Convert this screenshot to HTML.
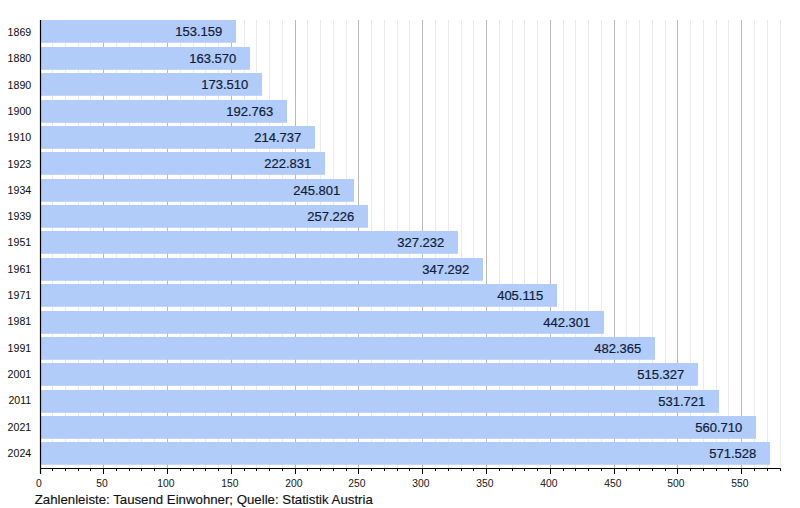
<!DOCTYPE html>
<html><head><meta charset="utf-8"><style>
html,body{margin:0;padding:0;background:#fff;width:800px;height:508px;overflow:hidden}
svg{display:block}
text{font-family:"Liberation Sans",sans-serif}
.v{font-size:13px;fill:#101c38;stroke:#101c38;stroke-width:0.2px}
.y{font-size:10.6px;fill:#111;stroke:#111;stroke-width:0.05px}
.t{font-size:10.3px;fill:#1a1a1a;stroke:#1a1a1a;stroke-width:0.05px}
.c{font-size:13.5px;fill:#111;stroke:#111;stroke-width:0.15px}
</style></head><body>
<svg width="800" height="508" viewBox="0 0 800 508">
<line x1="52.5" y1="20.0" x2="52.5" y2="468.5" stroke="#eaeaea" stroke-width="1"/>
<line x1="65.5" y1="20.0" x2="65.5" y2="468.5" stroke="#eaeaea" stroke-width="1"/>
<line x1="78.5" y1="20.0" x2="78.5" y2="468.5" stroke="#eaeaea" stroke-width="1"/>
<line x1="90.5" y1="20.0" x2="90.5" y2="468.5" stroke="#eaeaea" stroke-width="1"/>
<line x1="103.5" y1="20.0" x2="103.5" y2="468.5" stroke="#b8b8b8" stroke-width="1"/>
<line x1="116.5" y1="20.0" x2="116.5" y2="468.5" stroke="#eaeaea" stroke-width="1"/>
<line x1="129.5" y1="20.0" x2="129.5" y2="468.5" stroke="#eaeaea" stroke-width="1"/>
<line x1="141.5" y1="20.0" x2="141.5" y2="468.5" stroke="#eaeaea" stroke-width="1"/>
<line x1="154.5" y1="20.0" x2="154.5" y2="468.5" stroke="#eaeaea" stroke-width="1"/>
<line x1="167.5" y1="20.0" x2="167.5" y2="468.5" stroke="#b8b8b8" stroke-width="1"/>
<line x1="180.5" y1="20.0" x2="180.5" y2="468.5" stroke="#eaeaea" stroke-width="1"/>
<line x1="193.5" y1="20.0" x2="193.5" y2="468.5" stroke="#eaeaea" stroke-width="1"/>
<line x1="205.5" y1="20.0" x2="205.5" y2="468.5" stroke="#eaeaea" stroke-width="1"/>
<line x1="218.5" y1="20.0" x2="218.5" y2="468.5" stroke="#eaeaea" stroke-width="1"/>
<line x1="231.5" y1="20.0" x2="231.5" y2="468.5" stroke="#b8b8b8" stroke-width="1"/>
<line x1="244.5" y1="20.0" x2="244.5" y2="468.5" stroke="#eaeaea" stroke-width="1"/>
<line x1="256.5" y1="20.0" x2="256.5" y2="468.5" stroke="#eaeaea" stroke-width="1"/>
<line x1="269.5" y1="20.0" x2="269.5" y2="468.5" stroke="#eaeaea" stroke-width="1"/>
<line x1="282.5" y1="20.0" x2="282.5" y2="468.5" stroke="#eaeaea" stroke-width="1"/>
<line x1="295.5" y1="20.0" x2="295.5" y2="468.5" stroke="#b8b8b8" stroke-width="1"/>
<line x1="307.5" y1="20.0" x2="307.5" y2="468.5" stroke="#eaeaea" stroke-width="1"/>
<line x1="320.5" y1="20.0" x2="320.5" y2="468.5" stroke="#eaeaea" stroke-width="1"/>
<line x1="333.5" y1="20.0" x2="333.5" y2="468.5" stroke="#eaeaea" stroke-width="1"/>
<line x1="346.5" y1="20.0" x2="346.5" y2="468.5" stroke="#eaeaea" stroke-width="1"/>
<line x1="358.5" y1="20.0" x2="358.5" y2="468.5" stroke="#b8b8b8" stroke-width="1"/>
<line x1="371.5" y1="20.0" x2="371.5" y2="468.5" stroke="#eaeaea" stroke-width="1"/>
<line x1="384.5" y1="20.0" x2="384.5" y2="468.5" stroke="#eaeaea" stroke-width="1"/>
<line x1="397.5" y1="20.0" x2="397.5" y2="468.5" stroke="#eaeaea" stroke-width="1"/>
<line x1="409.5" y1="20.0" x2="409.5" y2="468.5" stroke="#eaeaea" stroke-width="1"/>
<line x1="422.5" y1="20.0" x2="422.5" y2="468.5" stroke="#b8b8b8" stroke-width="1"/>
<line x1="435.5" y1="20.0" x2="435.5" y2="468.5" stroke="#eaeaea" stroke-width="1"/>
<line x1="448.5" y1="20.0" x2="448.5" y2="468.5" stroke="#eaeaea" stroke-width="1"/>
<line x1="461.5" y1="20.0" x2="461.5" y2="468.5" stroke="#eaeaea" stroke-width="1"/>
<line x1="473.5" y1="20.0" x2="473.5" y2="468.5" stroke="#eaeaea" stroke-width="1"/>
<line x1="486.5" y1="20.0" x2="486.5" y2="468.5" stroke="#b8b8b8" stroke-width="1"/>
<line x1="499.5" y1="20.0" x2="499.5" y2="468.5" stroke="#eaeaea" stroke-width="1"/>
<line x1="512.5" y1="20.0" x2="512.5" y2="468.5" stroke="#eaeaea" stroke-width="1"/>
<line x1="524.5" y1="20.0" x2="524.5" y2="468.5" stroke="#eaeaea" stroke-width="1"/>
<line x1="537.5" y1="20.0" x2="537.5" y2="468.5" stroke="#eaeaea" stroke-width="1"/>
<line x1="550.5" y1="20.0" x2="550.5" y2="468.5" stroke="#b8b8b8" stroke-width="1"/>
<line x1="563.5" y1="20.0" x2="563.5" y2="468.5" stroke="#eaeaea" stroke-width="1"/>
<line x1="575.5" y1="20.0" x2="575.5" y2="468.5" stroke="#eaeaea" stroke-width="1"/>
<line x1="588.5" y1="20.0" x2="588.5" y2="468.5" stroke="#eaeaea" stroke-width="1"/>
<line x1="601.5" y1="20.0" x2="601.5" y2="468.5" stroke="#eaeaea" stroke-width="1"/>
<line x1="614.5" y1="20.0" x2="614.5" y2="468.5" stroke="#b8b8b8" stroke-width="1"/>
<line x1="626.5" y1="20.0" x2="626.5" y2="468.5" stroke="#eaeaea" stroke-width="1"/>
<line x1="639.5" y1="20.0" x2="639.5" y2="468.5" stroke="#eaeaea" stroke-width="1"/>
<line x1="652.5" y1="20.0" x2="652.5" y2="468.5" stroke="#eaeaea" stroke-width="1"/>
<line x1="665.5" y1="20.0" x2="665.5" y2="468.5" stroke="#eaeaea" stroke-width="1"/>
<line x1="677.5" y1="20.0" x2="677.5" y2="468.5" stroke="#b8b8b8" stroke-width="1"/>
<line x1="690.5" y1="20.0" x2="690.5" y2="468.5" stroke="#eaeaea" stroke-width="1"/>
<line x1="703.5" y1="20.0" x2="703.5" y2="468.5" stroke="#eaeaea" stroke-width="1"/>
<line x1="716.5" y1="20.0" x2="716.5" y2="468.5" stroke="#eaeaea" stroke-width="1"/>
<line x1="728.5" y1="20.0" x2="728.5" y2="468.5" stroke="#eaeaea" stroke-width="1"/>
<line x1="741.5" y1="20.0" x2="741.5" y2="468.5" stroke="#b8b8b8" stroke-width="1"/>
<line x1="754.5" y1="20.0" x2="754.5" y2="468.5" stroke="#eaeaea" stroke-width="1"/>
<line x1="767.5" y1="20.0" x2="767.5" y2="468.5" stroke="#eaeaea" stroke-width="1"/>
<line x1="780.5" y1="20.0" x2="780.5" y2="468.5" stroke="#eaeaea" stroke-width="1"/>
<rect x="41" y="20" width="195" height="22.8" fill="#b2ccfa"/>
<text x="222.20" y="35.60" text-anchor="end" class="v">153.159</text>
<text x="31.2" y="36.00" text-anchor="end" class="y">1869</text>
<rect x="41" y="47" width="209" height="22.8" fill="#b2ccfa"/>
<text x="236.20" y="62.60" text-anchor="end" class="v">163.570</text>
<text x="31.2" y="62.31" text-anchor="end" class="y">1880</text>
<rect x="41" y="73" width="221" height="22.8" fill="#b2ccfa"/>
<text x="248.20" y="88.60" text-anchor="end" class="v">173.510</text>
<text x="31.2" y="88.62" text-anchor="end" class="y">1890</text>
<rect x="41" y="100" width="246" height="22.8" fill="#b2ccfa"/>
<text x="273.20" y="115.60" text-anchor="end" class="v">192.763</text>
<text x="31.2" y="114.93" text-anchor="end" class="y">1900</text>
<rect x="41" y="126" width="274" height="22.8" fill="#b2ccfa"/>
<text x="301.20" y="141.60" text-anchor="end" class="v">214.737</text>
<text x="31.2" y="141.24" text-anchor="end" class="y">1910</text>
<rect x="41" y="152" width="284" height="22.8" fill="#b2ccfa"/>
<text x="311.20" y="167.60" text-anchor="end" class="v">222.831</text>
<text x="31.2" y="167.55" text-anchor="end" class="y">1923</text>
<rect x="41" y="179" width="313" height="22.8" fill="#b2ccfa"/>
<text x="340.20" y="194.60" text-anchor="end" class="v">245.801</text>
<text x="31.2" y="193.86" text-anchor="end" class="y">1934</text>
<rect x="41" y="205" width="327" height="22.8" fill="#b2ccfa"/>
<text x="354.20" y="220.60" text-anchor="end" class="v">257.226</text>
<text x="31.2" y="220.17" text-anchor="end" class="y">1939</text>
<rect x="41" y="231" width="417" height="22.8" fill="#b2ccfa"/>
<text x="444.20" y="246.60" text-anchor="end" class="v">327.232</text>
<text x="31.2" y="246.48" text-anchor="end" class="y">1951</text>
<rect x="41" y="258" width="442" height="22.8" fill="#b2ccfa"/>
<text x="469.20" y="273.60" text-anchor="end" class="v">347.292</text>
<text x="31.2" y="272.79" text-anchor="end" class="y">1961</text>
<rect x="41" y="284" width="516" height="22.8" fill="#b2ccfa"/>
<text x="543.20" y="299.60" text-anchor="end" class="v">405.115</text>
<text x="31.2" y="299.10" text-anchor="end" class="y">1971</text>
<rect x="41" y="311" width="563" height="22.8" fill="#b2ccfa"/>
<text x="590.20" y="326.60" text-anchor="end" class="v">442.301</text>
<text x="31.2" y="325.41" text-anchor="end" class="y">1981</text>
<rect x="41" y="337" width="614" height="22.8" fill="#b2ccfa"/>
<text x="641.20" y="352.60" text-anchor="end" class="v">482.365</text>
<text x="31.2" y="351.72" text-anchor="end" class="y">1991</text>
<rect x="41" y="363" width="657" height="22.8" fill="#b2ccfa"/>
<text x="684.20" y="378.60" text-anchor="end" class="v">515.327</text>
<text x="31.2" y="378.03" text-anchor="end" class="y">2001</text>
<rect x="41" y="390" width="678" height="22.8" fill="#b2ccfa"/>
<text x="705.20" y="405.60" text-anchor="end" class="v">531.721</text>
<text x="31.2" y="404.34" text-anchor="end" class="y">2011</text>
<rect x="41" y="416" width="715" height="22.8" fill="#b2ccfa"/>
<text x="742.20" y="431.60" text-anchor="end" class="v">560.710</text>
<text x="31.2" y="430.65" text-anchor="end" class="y">2021</text>
<rect x="41" y="442" width="729" height="22.8" fill="#b2ccfa"/>
<text x="756.20" y="457.60" text-anchor="end" class="v">571.528</text>
<text x="31.2" y="456.96" text-anchor="end" class="y">2024</text>
<line x1="40.5" y1="20.0" x2="40.5" y2="474.0" stroke="#000" stroke-width="1.2"/>
<line x1="40" y1="468.5" x2="780.6" y2="468.5" stroke="#000" stroke-width="1.2"/>
<line x1="52.5" y1="468.5" x2="52.5" y2="471.0" stroke="#000" stroke-width="1"/>
<line x1="65.5" y1="468.5" x2="65.5" y2="471.0" stroke="#000" stroke-width="1"/>
<line x1="78.5" y1="468.5" x2="78.5" y2="471.0" stroke="#000" stroke-width="1"/>
<line x1="90.5" y1="468.5" x2="90.5" y2="471.0" stroke="#000" stroke-width="1"/>
<line x1="103.5" y1="468.5" x2="103.5" y2="474.0" stroke="#000" stroke-width="1"/>
<line x1="116.5" y1="468.5" x2="116.5" y2="471.0" stroke="#000" stroke-width="1"/>
<line x1="129.5" y1="468.5" x2="129.5" y2="471.0" stroke="#000" stroke-width="1"/>
<line x1="141.5" y1="468.5" x2="141.5" y2="471.0" stroke="#000" stroke-width="1"/>
<line x1="154.5" y1="468.5" x2="154.5" y2="471.0" stroke="#000" stroke-width="1"/>
<line x1="167.5" y1="468.5" x2="167.5" y2="474.0" stroke="#000" stroke-width="1"/>
<line x1="180.5" y1="468.5" x2="180.5" y2="471.0" stroke="#000" stroke-width="1"/>
<line x1="193.5" y1="468.5" x2="193.5" y2="471.0" stroke="#000" stroke-width="1"/>
<line x1="205.5" y1="468.5" x2="205.5" y2="471.0" stroke="#000" stroke-width="1"/>
<line x1="218.5" y1="468.5" x2="218.5" y2="471.0" stroke="#000" stroke-width="1"/>
<line x1="231.5" y1="468.5" x2="231.5" y2="474.0" stroke="#000" stroke-width="1"/>
<line x1="244.5" y1="468.5" x2="244.5" y2="471.0" stroke="#000" stroke-width="1"/>
<line x1="256.5" y1="468.5" x2="256.5" y2="471.0" stroke="#000" stroke-width="1"/>
<line x1="269.5" y1="468.5" x2="269.5" y2="471.0" stroke="#000" stroke-width="1"/>
<line x1="282.5" y1="468.5" x2="282.5" y2="471.0" stroke="#000" stroke-width="1"/>
<line x1="295.5" y1="468.5" x2="295.5" y2="474.0" stroke="#000" stroke-width="1"/>
<line x1="307.5" y1="468.5" x2="307.5" y2="471.0" stroke="#000" stroke-width="1"/>
<line x1="320.5" y1="468.5" x2="320.5" y2="471.0" stroke="#000" stroke-width="1"/>
<line x1="333.5" y1="468.5" x2="333.5" y2="471.0" stroke="#000" stroke-width="1"/>
<line x1="346.5" y1="468.5" x2="346.5" y2="471.0" stroke="#000" stroke-width="1"/>
<line x1="358.5" y1="468.5" x2="358.5" y2="474.0" stroke="#000" stroke-width="1"/>
<line x1="371.5" y1="468.5" x2="371.5" y2="471.0" stroke="#000" stroke-width="1"/>
<line x1="384.5" y1="468.5" x2="384.5" y2="471.0" stroke="#000" stroke-width="1"/>
<line x1="397.5" y1="468.5" x2="397.5" y2="471.0" stroke="#000" stroke-width="1"/>
<line x1="409.5" y1="468.5" x2="409.5" y2="471.0" stroke="#000" stroke-width="1"/>
<line x1="422.5" y1="468.5" x2="422.5" y2="474.0" stroke="#000" stroke-width="1"/>
<line x1="435.5" y1="468.5" x2="435.5" y2="471.0" stroke="#000" stroke-width="1"/>
<line x1="448.5" y1="468.5" x2="448.5" y2="471.0" stroke="#000" stroke-width="1"/>
<line x1="461.5" y1="468.5" x2="461.5" y2="471.0" stroke="#000" stroke-width="1"/>
<line x1="473.5" y1="468.5" x2="473.5" y2="471.0" stroke="#000" stroke-width="1"/>
<line x1="486.5" y1="468.5" x2="486.5" y2="474.0" stroke="#000" stroke-width="1"/>
<line x1="499.5" y1="468.5" x2="499.5" y2="471.0" stroke="#000" stroke-width="1"/>
<line x1="512.5" y1="468.5" x2="512.5" y2="471.0" stroke="#000" stroke-width="1"/>
<line x1="524.5" y1="468.5" x2="524.5" y2="471.0" stroke="#000" stroke-width="1"/>
<line x1="537.5" y1="468.5" x2="537.5" y2="471.0" stroke="#000" stroke-width="1"/>
<line x1="550.5" y1="468.5" x2="550.5" y2="474.0" stroke="#000" stroke-width="1"/>
<line x1="563.5" y1="468.5" x2="563.5" y2="471.0" stroke="#000" stroke-width="1"/>
<line x1="575.5" y1="468.5" x2="575.5" y2="471.0" stroke="#000" stroke-width="1"/>
<line x1="588.5" y1="468.5" x2="588.5" y2="471.0" stroke="#000" stroke-width="1"/>
<line x1="601.5" y1="468.5" x2="601.5" y2="471.0" stroke="#000" stroke-width="1"/>
<line x1="614.5" y1="468.5" x2="614.5" y2="474.0" stroke="#000" stroke-width="1"/>
<line x1="626.5" y1="468.5" x2="626.5" y2="471.0" stroke="#000" stroke-width="1"/>
<line x1="639.5" y1="468.5" x2="639.5" y2="471.0" stroke="#000" stroke-width="1"/>
<line x1="652.5" y1="468.5" x2="652.5" y2="471.0" stroke="#000" stroke-width="1"/>
<line x1="665.5" y1="468.5" x2="665.5" y2="471.0" stroke="#000" stroke-width="1"/>
<line x1="677.5" y1="468.5" x2="677.5" y2="474.0" stroke="#000" stroke-width="1"/>
<line x1="690.5" y1="468.5" x2="690.5" y2="471.0" stroke="#000" stroke-width="1"/>
<line x1="703.5" y1="468.5" x2="703.5" y2="471.0" stroke="#000" stroke-width="1"/>
<line x1="716.5" y1="468.5" x2="716.5" y2="471.0" stroke="#000" stroke-width="1"/>
<line x1="728.5" y1="468.5" x2="728.5" y2="471.0" stroke="#000" stroke-width="1"/>
<line x1="741.5" y1="468.5" x2="741.5" y2="474.0" stroke="#000" stroke-width="1"/>
<line x1="754.5" y1="468.5" x2="754.5" y2="471.0" stroke="#000" stroke-width="1"/>
<line x1="767.5" y1="468.5" x2="767.5" y2="471.0" stroke="#000" stroke-width="1"/>
<line x1="780.5" y1="468.5" x2="780.5" y2="471.0" stroke="#000" stroke-width="1"/>
<text x="38.90" y="487.2" text-anchor="middle" class="t">0</text>
<text x="101.90" y="487.2" text-anchor="middle" class="t">50</text>
<text x="165.90" y="487.2" text-anchor="middle" class="t">100</text>
<text x="229.90" y="487.2" text-anchor="middle" class="t">150</text>
<text x="293.90" y="487.2" text-anchor="middle" class="t">200</text>
<text x="356.90" y="487.2" text-anchor="middle" class="t">250</text>
<text x="420.90" y="487.2" text-anchor="middle" class="t">300</text>
<text x="484.90" y="487.2" text-anchor="middle" class="t">350</text>
<text x="548.90" y="487.2" text-anchor="middle" class="t">400</text>
<text x="612.90" y="487.2" text-anchor="middle" class="t">450</text>
<text x="675.90" y="487.2" text-anchor="middle" class="t">500</text>
<text x="739.90" y="487.2" text-anchor="middle" class="t">550</text>
<text transform="translate(34.7,503.8) scale(0.981,1)" class="c">Zahlenleiste: Tausend Einwohner; Quelle: Statistik Austria</text>
</svg>
</body></html>
